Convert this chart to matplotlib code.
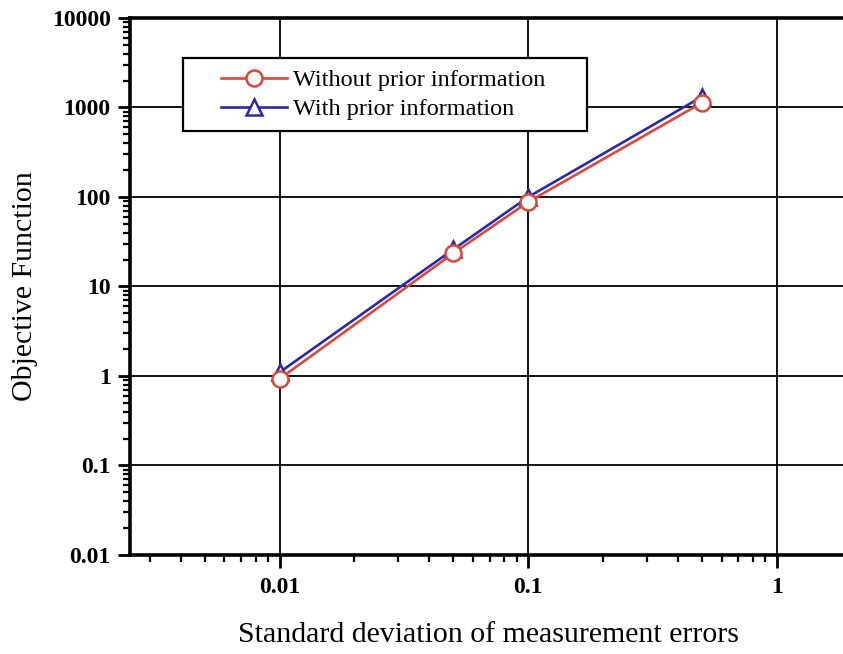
import matplotlib
matplotlib.use("Agg")
import matplotlib.pyplot as plt
from matplotlib.patches import Rectangle
from matplotlib.ticker import LogLocator, FixedLocator, FixedFormatter, NullFormatter

plt.rcParams["font.family"] = ["Liberation Serif", "DejaVu Serif"]

# Objective function vs. noise level of the measurements
sigma = [0.01, 0.05, 0.1, 0.5]
obj_without_prior = [0.93, 23.5, 88, 1130]
obj_with_prior = [1.1, 26, 100, 1320]

x_ticks = [0.01, 0.1, 1]
x_tick_labels = ["0.01", "0.1", "1"]
y_ticks = [0.01, 0.1, 1, 10, 100, 1000, 10000]
y_tick_labels = ["0.01", "0.1", "1", "10", "100", "1000", "10000"]

RED = "#d9483c"
BLUE = "#2a2aa8"

fig = plt.figure(figsize=(8.43, 6.54), dpi=100)
# axes run past the right edge of the figure
ax = fig.add_axes([0.1542, 0.1514, 0.856, 0.8211])

ax.plot(sigma, obj_with_prior, color=BLUE, lw=1.9, marker="^", ms=11.5,
        mfc="white", mec=BLUE, mew=1.8, label="With prior information", zorder=3)
ax.plot(sigma, obj_without_prior, color=RED, lw=1.9, marker="o", ms=11.5,
        mfc="white", mec=RED, mew=1.8, label="Without prior information", zorder=4)

ax.set_xscale("log")
ax.set_yscale("log")
ax.set_xlim(0.0025, 2.0)
ax.set_ylim(0.01, 10000)

ax.xaxis.set_major_locator(FixedLocator(x_ticks))
ax.xaxis.set_major_formatter(FixedFormatter(x_tick_labels))
ax.yaxis.set_major_locator(FixedLocator(y_ticks))
ax.yaxis.set_major_formatter(FixedFormatter(y_tick_labels))
ax.xaxis.set_minor_locator(LogLocator(base=10, subs=range(2, 10), numticks=20))
ax.yaxis.set_minor_locator(LogLocator(base=10, subs=range(2, 10), numticks=20))
ax.xaxis.set_minor_formatter(NullFormatter())
ax.yaxis.set_minor_formatter(NullFormatter())

ax.tick_params(which="major", direction="out", length=9, width=2, pad=5,
               labelsize=17)
ax.tick_params(axis="x", which="major", pad=7)
ax.tick_params(which="minor", direction="out", length=5, width=1.6)
for lbl in ax.get_xticklabels() + ax.get_yticklabels():
    lbl.set_fontweight("bold")

ax.grid(True, which="major", color="black", lw=1.3)
for side in ["left", "bottom", "top", "right"]:
    ax.spines[side].set_linewidth(2.6)

ax.set_xlabel("Standard deviation of measurement errors", fontsize=21.5)
ax.xaxis.set_label_coords(0.4975, -0.124)
ax.set_ylabel("Objective Function", fontsize=21.5)
ax.yaxis.set_label_coords(-0.128, 0.5)

handles, labels = ax.get_legend_handles_labels()
leg = ax.legend(handles[::-1], labels[::-1], loc="upper left",
                bbox_to_anchor=(0.126, 0.905), fontsize=17.5, frameon=False,
                borderpad=0, handlelength=2.7, labelspacing=0.3,
                handletextpad=0.25, borderaxespad=0)

# wide box around the legend, drawn in pixel coordinates
fig.canvas.draw()
bb = leg.get_window_extent()
box = Rectangle((bb.x0 - 38, bb.y0 - 11), bb.width + 80, bb.height + 22,
                transform=None, facecolor="white", edgecolor="black",
                lw=1.6, zorder=5)
fig.add_artist(box)
leg.set_zorder(6)
fig.add_artist(leg)

fig.savefig("out.png", dpi=100)
